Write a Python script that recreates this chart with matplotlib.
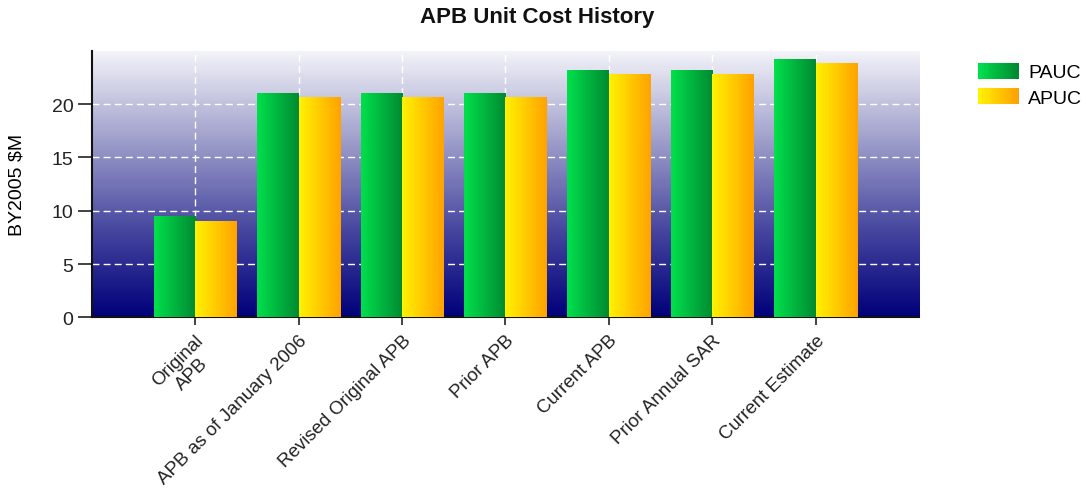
import numpy as np
import matplotlib

matplotlib.use("Agg")
import matplotlib.pyplot as plt
from matplotlib.colors import LinearSegmentedColormap
from matplotlib.legend_handler import HandlerBase
from matplotlib.patches import Rectangle

plt.rcParams["font.family"] = ["Liberation Sans", "DejaVu Sans"]

categories = [
    "Original\nAPB",
    "APB as of January 2006",
    "Revised Original APB",
    "Prior APB",
    "Current APB",
    "Prior Annual SAR",
    "Current Estimate",
]
pauc = [9.44, 20.93, 20.93, 20.93, 23.11, 23.11, 24.11]
apuc = [8.97, 20.59, 20.59, 20.59, 22.77, 22.77, 23.79]
series_names = ["PAUC", "APUC"]

green_cmap = LinearSegmentedColormap.from_list("g", ["#00e04c", "#008a32"])
gold_cmap = LinearSegmentedColormap.from_list("y", ["#fff200", "#ffa200"])
bg_cmap = LinearSegmentedColormap.from_list(
    "bg", ["#00007a", "#4848a0", "#a0a0cc", "#f4f4fa"]
)

fig = plt.figure(figsize=(10.86, 4.89), dpi=100)
ax = fig.add_axes([0.0844, 0.349, 0.762, 0.545])

x = np.arange(1, len(categories) + 1)
width = 0.4
xmax = len(categories) + 1

# background gradient, dark at the bottom
grad = np.linspace(0, 1, 256).reshape(-1, 1)
ax.imshow(grad, cmap=bg_cmap, origin="lower", aspect="auto",
          extent=[0, xmax, 0, 25], zorder=0)

ax.set_axisbelow(True)
ax.grid(True, color="white", linestyle=(0, (5, 3)), linewidth=1.0, zorder=1)

bars_p = ax.bar(x - width / 2, pauc, width, color="none", zorder=2)
bars_a = ax.bar(x + width / 2, apuc, width, color="none", zorder=2)

hgrad = np.linspace(0, 1, 128).reshape(1, -1)
for bars, cmap in [(bars_p, green_cmap), (bars_a, gold_cmap)]:
    for b in bars:
        x0, y0 = b.get_x(), b.get_y()
        ax.imshow(hgrad, cmap=cmap, aspect="auto", zorder=3,
                  extent=[x0, x0 + b.get_width(), y0, y0 + b.get_height()])

ax.set_xlim(0, xmax)
ax.set_ylim(0, 25)

ax.set_xticks(x)
ax.set_xticklabels(categories, rotation=45, ha="right", rotation_mode="anchor",
                   multialignment="center", fontsize=13.5)
ax.set_yticks([0, 5, 10, 15, 20])
ax.tick_params(axis="both", colors="#222222", direction="out")
ax.tick_params(axis="y", length=10, width=1.2, labelsize=14, pad=3)
ax.tick_params(axis="x", length=6, width=1.2, pad=4)

for side in ["top", "right"]:
    ax.spines[side].set_visible(False)
for side in ["left", "bottom"]:
    ax.spines[side].set_linewidth(1.5)
    ax.spines[side].set_color("#111111")

ax.set_ylabel("BY2005 $M", fontsize=14)
ax.yaxis.set_label_coords(-0.0795, 0.5)

fig.text(0.495, 0.965, "APB Unit Cost History", ha="center", va="center",
         fontsize=16, fontweight="bold", color="#111111")


class GradientHandler(HandlerBase):
    def __init__(self, cmap):
        super().__init__()
        self.cmap = cmap

    def create_artists(self, legend, orig_handle, xdescent, ydescent,
                       width, height, fontsize, trans):
        n = 20
        arts = []
        for i in range(n):
            arts.append(Rectangle((-xdescent + width * i / n, -ydescent),
                                  width / n + 0.3, height,
                                  facecolor=self.cmap(i / (n - 1)),
                                  edgecolor="none", transform=trans))
        return arts


h_p = Rectangle((0, 0), 1, 1)
h_a = Rectangle((0, 0), 1, 1)
fig.legend([h_p, h_a], series_names, loc="upper left",
           bbox_to_anchor=(0.893, 0.885), frameon=False, fontsize=14,
           handlelength=2.1, handleheight=0.85, handletextpad=0.5,
           labelspacing=0.35, borderaxespad=0,
           handler_map={h_p: GradientHandler(green_cmap),
                        h_a: GradientHandler(gold_cmap)})

fig.savefig("out.png", dpi=100)
